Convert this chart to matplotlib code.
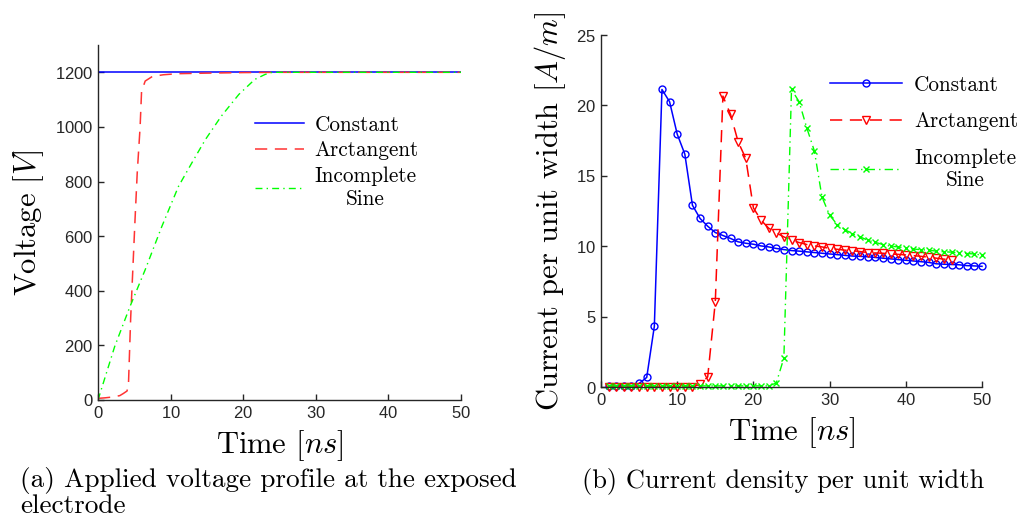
import matplotlib
matplotlib.use("Agg")
import matplotlib.pyplot as plt
import numpy as np

plt.rcParams["font.family"] = ["Liberation Sans", "DejaVu Sans"]
plt.rcParams["mathtext.fontset"] = "cm"
plt.rcParams["axes.formatter.use_mathtext"] = True

SERIF = "cmr10"
AXC = "#262626"

# ---- (a) applied voltage profiles ----
t_const = [0, 50]
v_const = [1200, 1200]

t_atan = [0, 1, 2, 3, 3.5, 4.0, 4.2, 4.5, 4.8, 5.1, 5.4, 5.8, 6.0, 6.5, 7.5, 9, 11, 15, 20, 25, 50]
v_atan = [6, 8, 11, 16, 24, 33, 60, 300, 480, 660, 830, 1000, 1130, 1168, 1185, 1191, 1195, 1197, 1199, 1200, 1200]

t_sine = [0, 2.3, 4.4, 6.5, 8.8, 11.1, 13.2, 14.8, 17.0, 19.4, 21.6, 23.0, 24.0, 50]
v_sine = [0, 196, 342, 477, 636, 783, 881, 954, 1040, 1119, 1174, 1192, 1200, 1200]

# ---- (b) current per unit width ----
t_b_const = list(range(1, 51))
j_const = [0.1, 0.1, 0.1, 0.1, 0.25, 0.68, 4.31, 21.13, 20.26, 17.96,
           16.54, 12.91, 11.97, 11.42, 10.97, 10.76, 10.55, 10.31, 10.21, 10.14,
           10.02, 9.95, 9.84, 9.76, 9.69, 9.65, 9.6, 9.55, 9.5, 9.45,
           9.4, 9.35, 9.3, 9.28, 9.25, 9.2, 9.15, 9.1, 9.05, 9.0,
           8.95, 8.9, 8.85, 8.75, 8.72, 8.7, 8.68, 8.62, 8.6, 8.57]

t_b_atan = list(range(1, 47))
j_atan = [0.0, 0.0, 0.0, 0.0, 0.0, 0.0, 0.0, 0.0, 0.0, 0.0,
          0.0, 0.0, 0.2, 0.71, 6.04, 20.66, 19.36, 17.41, 16.23, 12.72,
          11.85, 11.28, 10.95, 10.66, 10.43, 10.26, 10.12, 10.02, 9.95, 9.84,
          9.78, 9.72, 9.68, 9.62, 9.55, 9.52, 9.5, 9.45, 9.42, 9.38,
          9.33, 9.28, 9.22, 9.15, 9.08, 9.05]

t_b_sine = list(range(1, 51))
j_sine = [0.08] * 22 + [0.28, 2.06, 21.13, 20.26, 18.41, 16.77, 13.5, 12.2,
                        11.54, 11.18, 10.88, 10.66, 10.43, 10.27, 10.12, 10.0, 9.95, 9.88,
                        9.8, 9.75, 9.72, 9.65, 9.6, 9.58, 9.52, 9.48, 9.45, 9.36]

W, H = 1024, 527
fig = plt.figure(figsize=(W / 100, H / 100), dpi=100)


def px_axes(x0, y0, x1, y1):
    return fig.add_axes([x0 / W, 1 - y1 / H, (x1 - x0) / W, (y1 - y0) / H])


def style(ax):
    for s in ("top", "right"):
        ax.spines[s].set_visible(False)
    for s in ("left", "bottom"):
        ax.spines[s].set_color(AXC)
        ax.spines[s].set_linewidth(1.0)
    ax.tick_params(direction="in", length=4, width=1.0, colors=AXC,
                   labelsize=12, labelcolor=AXC)


# (a)
axa = px_axes(98, 45, 461, 400)
axa.plot(t_const, v_const, color="#0000ff", lw=1.1, label="Constant")
axa.plot(t_atan, v_atan, color="#ff3333", lw=1.1, ls=(0, (8, 5)), label="Arctangent")
axa.plot(t_sine, v_sine, color="#00ff00", lw=1.0, ls=(0, (5, 3, 1, 3)), label="Incomplete\nSine")
axa.set_xlim(0, 50)
axa.set_ylim(0, 1300)
axa.set_xticks(range(0, 51, 10))
axa.set_yticks(range(0, 1201, 200))
style(axa)
axa.set_xlabel(r"Time $[ns]$", fontsize=22, family=SERIF, labelpad=5)
axa.set_ylabel(r"Voltage $[V]$", fontsize=22, family=SERIF, labelpad=6)
lega = axa.legend(loc="upper left", bbox_to_anchor=(255 / W, 1 - 115 / H),
                  bbox_transform=fig.transFigure, frameon=False,
                  prop={"family": SERIF, "size": 15.3}, handlelength=2.3,
                  handletextpad=0.5, labelspacing=0.3, borderpad=0, borderaxespad=0)
for tx in lega.get_texts():
    tx.set_multialignment("center")

# (b)
axb = px_axes(601, 35, 982, 387)
axb.plot(t_b_const, j_const, color="#0000ff", lw=1.1, marker="o", ms=5,
         mfc="none", mew=1.0, label="Constant", clip_on=False)
axb.plot(t_b_atan, j_atan, color="#ff0000", lw=1.1, ls=(0, (8, 5)), marker="v", ms=6,
         mfc="none", mew=1.0, label="Arctangent", clip_on=False)
axb.plot(t_b_sine, j_sine, color="#00ff00", lw=1.0, ls=(0, (6, 3, 1, 3)), marker="x", ms=5,
         mew=1.0, label="Incomplete\nSine", clip_on=False)
axb.set_xlim(0, 50)
axb.set_ylim(0, 25)
axb.set_xticks(range(0, 51, 10))
axb.set_yticks(range(0, 26, 5))
style(axb)
axb.set_xlabel(r"Time $[ns]$", fontsize=22, family=SERIF, labelpad=5)
axb.set_ylabel(r"Current per unit width $[A/m]$", fontsize=22, family=SERIF, labelpad=6)
legb = axb.legend(loc="upper left", bbox_to_anchor=(830 / W, 1 - 75 / H),
                  bbox_transform=fig.transFigure, frameon=False,
                  prop={"family": SERIF, "size": 15.3}, handlelength=3.4,
                  handletextpad=0.55, labelspacing=0.8, borderpad=0, borderaxespad=0,
                  numpoints=1)
for tx in legb.get_texts():
    tx.set_multialignment("center")

# captions
fig.text(20 / W, 1 - 487 / H, "(a) Applied voltage profile at the exposed",
         family=SERIF, fontsize=19.6, ha="left", va="baseline")
fig.text(20 / W, 1 - 513 / H, "electrode",
         family=SERIF, fontsize=19.6, ha="left", va="baseline")
fig.text(582 / W, 1 - 488 / H, "(b) Current density per unit width",
         family=SERIF, fontsize=19, ha="left", va="baseline")

fig.savefig("out.png", dpi=100)
